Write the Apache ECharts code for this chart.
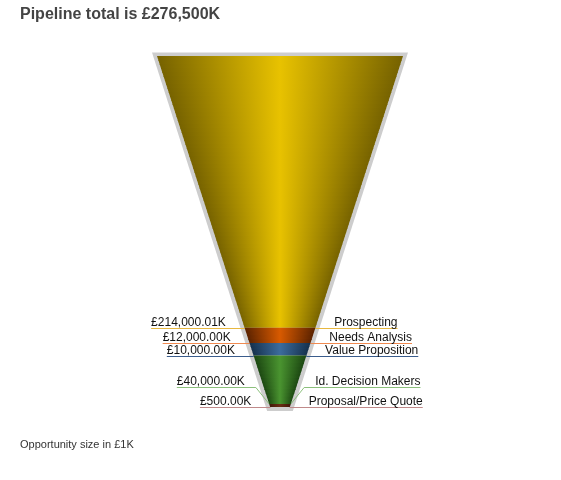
<!DOCTYPE html>
<html><head><meta charset="utf-8">
<script src="https://cdn.jsdelivr.net/npm/echarts@6/dist/echarts.min.js"></script>
<style>html,body{margin:0;padding:0;background:#fff}#chart{width:561px;height:480px}</style>
</head><body><div id="chart"></div>
<script>
// ---- data ----
const stages = ['Prospecting', 'Needs Analysis', 'Value Proposition', 'Id. Decision Makers', 'Proposal/Price Quote'];
const values = [214000.01, 12000, 10000, 40000, 500];
const titlePrefix = 'Pipeline total is ';
const footnote = 'Opportunity size in £1K';

// ---- styles ----
const segmentColors = [
  ['#766200', '#e8c200'],
  ['#5a2200', '#d85a00'],
  ['#15304c', '#3c6c9c'],
  ['#1b4611', '#4a9430'],
  ['#3e1608', '#6a2c14']
];
const leaderColors = ['#e8b840', '#f08a50', '#3a5c8c', '#8cc07c', '#c08a8a'];
const FONT = '12px "Liberation Sans", Arial, sans-serif';
const TIP = 0.08;      // bottom half-width relative to top
const MIN_PX = 3;      // minimum drawn height of a segment
const TEXT_GAP = 19;   // gap between funnel edge and label text

function addCommas(s) { return s.replace(/\B(?=(\d{3})+(?!\d))/g, ','); }
function money(v, d) {
  const s = v.toFixed(d).split('.');
  return '£' + addCommas(s[0]) + (s[1] ? '.' + s[1] : '') + 'K';
}
const total = values.reduce((a, b) => a + b, 0);
const starts = [];
{ let acc = 0; values.forEach(v => { starts.push(acc); acc += v; }); }
const segData = values.map((v, i) => [starts[i], starts[i] + v, i]);

const mctx = document.createElement('canvas').getContext('2d');
mctx.font = FONT;
function tw(t) { return mctx.measureText(t).width; }

function geometry(api) {
  const p0l = api.coord([-1, 0]), p0r = api.coord([1, 0]);
  const p1l = api.coord([-TIP, total]), p1r = api.coord([TIP, total]);
  const edgeL = y => p0l[0] + (p1l[0] - p0l[0]) * (y - p0l[1]) / (p1l[1] - p0l[1]);
  const edgeR = y => p0r[0] + (p1r[0] - p0r[0]) * (y - p0r[1]) / (p1r[1] - p0r[1]);
  const n = values.length;
  const top = [], bot = [];
  for (let j = 0; j < n; j++) {
    top[j] = api.coord([0, starts[j]])[1];
    bot[j] = api.coord([0, starts[j] + values[j]])[1];
    if (bot[j] - top[j] < MIN_PX) top[j] = bot[j] - MIN_PX;
  }
  for (let j = 0; j < n - 1; j++) bot[j] = Math.min(bot[j], top[j + 1]);
  const ly = [], shifted = [];
  for (let j = n - 1; j >= 0; j--) {
    ly[j] = bot[j]; shifted[j] = false;
    if (j < n - 1 && ly[j + 1] - ly[j] < 12) { ly[j] = ly[j + 1] - 20; shifted[j] = true; }
  }
  return { p0l, p0r, p1l, p1r, edgeL, edgeR, top, bot, ly, shifted };
}

function renderFrame(params, api) {
  const g = geometry(api);
  return {
    type: 'polygon',
    shape: { points: [
      [g.p0l[0] - 5, g.p0l[1] - 3.5], [g.p0r[0] + 5, g.p0r[1] - 3.5],
      [g.p1r[0] + 3, g.p1r[1] + 4], [g.p1l[0] - 3, g.p1l[1] + 4]
    ] },
    style: { fill: '#cdcdcd' },
    z2: 0
  };
}

function renderSegment(params, api) {
  const i = api.value(2);
  const g = geometry(api);
  const children = [];
  const yT = g.top[i], yB = g.bot[i];
  const cols = segmentColors[i];
  const n = Math.max(1, Math.ceil((yB - yT) / 4));
  for (let k = 0; k < n; k++) {
    const ya = yT + (yB - yT) * k / n;
    let yb = yT + (yB - yT) * (k + 1) / n;
    if (k < n - 1) yb += 0.8;
    children.push({
      type: 'polygon',
      shape: { points: [[g.edgeL(ya), ya], [g.edgeR(ya), ya], [g.edgeR(yb), yb], [g.edgeL(yb), yb]] },
      style: {
        fill: new echarts.graphic.LinearGradient(0, 0, 1, 0, [
          { offset: 0, color: cols[0] }, { offset: 0.5, color: cols[1] }, { offset: 1, color: cols[0] }
        ])
      },
      z2: 2
    });
  }
  const y = Math.round(g.ly[i]) + 0.5;
  const ay = g.bot[i];
  const leftText = money(values[i], 2);
  const rightText = stages[i];
  const eL = g.edgeL(y), eR = g.edgeR(y);
  const lRight = eL - TEXT_GAP, rLeft = eR + TEXT_GAP;
  const elbowL = g.shifted[i] ? eL - 8 : g.edgeL(ay);
  const elbowR = g.shifted[i] ? eR + 8 : g.edgeR(ay);
  const lc = leaderColors[i];
  children.push({
    type: 'polyline',
    shape: { points: [[lRight - tw(leftText), y], [elbowL, y], [g.edgeL(ay), ay]] },
    style: { stroke: lc, lineWidth: 1, fill: null }, z2: 1
  });
  children.push({
    type: 'polyline',
    shape: { points: [[rLeft + tw(rightText), y], [elbowR, y], [g.edgeR(ay), ay]] },
    style: { stroke: lc, lineWidth: 1, fill: null }, z2: 1
  });
  children.push({
    type: 'text',
    style: { text: leftText, x: lRight, y: y + 0.5, align: 'right', verticalAlign: 'bottom', font: FONT, fill: '#111' },
    z2: 3
  });
  children.push({
    type: 'text',
    style: { text: rightText, x: rLeft, y: y + 0.5, align: 'left', verticalAlign: 'bottom', font: FONT, fill: '#111' },
    z2: 3
  });
  return { type: 'group', children };
}

const chart = echarts.init(document.getElementById('chart'), null, { renderer: 'canvas' });
chart.setOption({
  animation: false,
  title: [
    { text: titlePrefix + money(Math.round(total), 0), left: 20, top: 7, padding: 0,
      textStyle: { fontSize: 16, fontWeight: 'bold', color: '#444', fontFamily: '"Liberation Sans", Arial, sans-serif' } },
    { text: footnote, left: 20, top: 439, padding: 0,
      textStyle: { fontSize: 11, fontWeight: 'normal', color: '#333', fontFamily: '"Liberation Sans", Arial, sans-serif' } }
  ],
  grid: { left: 157, right: 158, top: 56, bottom: 73 },
  xAxis: { type: 'value', min: -1, max: 1, show: false },
  yAxis: { type: 'value', min: 0, max: total, inverse: true, show: false },
  series: [
    { type: 'custom', name: 'frame', data: [[0]], renderItem: renderFrame, z: 1, silent: true },
    { type: 'custom', name: 'pipeline', data: segData, renderItem: renderSegment, z: 2,
      encode: { x: -1, y: [0, 1] } }
  ]
});
</script>
</body></html>
